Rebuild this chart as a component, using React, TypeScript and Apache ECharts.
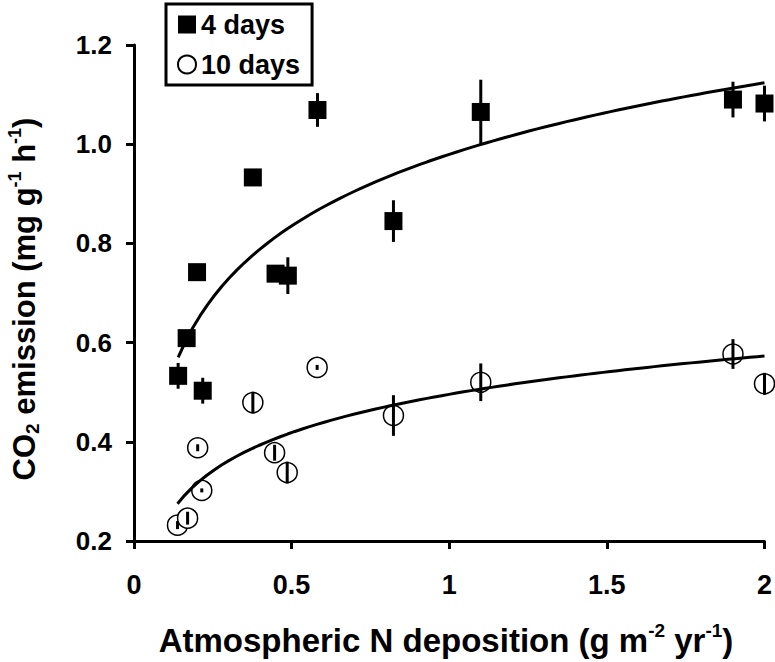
import React, { useEffect, useRef } from "react";
import * as echarts from "echarts";

// ---- Data ----
const days4X = [0.14, 0.167, 0.2, 0.218, 0.377, 0.449, 0.488, 0.582, 0.823, 1.1, 1.9, 2.0];
const days4Y = [0.533, 0.609, 0.742, 0.503, 0.933, 0.739, 0.735, 1.069, 0.845, 1.065, 1.09, 1.082];
const days4Err = [0.026, 0.012, 0.01, 0.026, 0, 0.012, 0.037, 0.034, 0.042, 0.065, 0.036, 0.036];

const days10X = [0.138, 0.17, 0.202, 0.215, 0.377, 0.446, 0.486, 0.581, 0.823, 1.1, 1.9, 2.0];
const days10Y = [0.232, 0.246, 0.388, 0.302, 0.479, 0.378, 0.338, 0.55, 0.453, 0.52, 0.577, 0.517];
const days10Err = [0.008, 0.013, 0.007, 0.004, 0.022, 0.016, 0.022, 0.005, 0.041, 0.038, 0.03, 0.022];

const seriesNames = ["4 days", "10 days"];
const xTickLabels = ["0", "0.5", "1", "1.5", "2"];

const FONT = "'Liberation Sans', Arial, sans-serif";

// logarithmic least-squares trend (y = a + b ln x) derived from the data
function logFit(xs: number[], ys: number[]) {
  const lx = xs.map((x) => Math.log(x));
  const n = xs.length;
  const mx = lx.reduce((s, v) => s + v, 0) / n;
  const my = ys.reduce((s, v) => s + v, 0) / n;
  let sxy = 0;
  let sxx = 0;
  for (let i = 0; i < n; i++) {
    sxy += (lx[i] - mx) * (ys[i] - my);
    sxx += (lx[i] - mx) * (lx[i] - mx);
  }
  const b = sxy / sxx;
  const a = my - b * mx;
  const lo = Math.min(...xs);
  const hi = Math.max(...xs);
  const pts: number[][] = [];
  const steps = 80;
  for (let i = 0; i <= steps; i++) {
    const x = lo + ((hi - lo) * i) / steps;
    pts.push([x, a + b * Math.log(x)]);
  }
  return pts;
}

function errData(xs: number[], ys: number[], es: number[]) {
  return xs.map((x, i) => [x, ys[i] - es[i], ys[i] + es[i]]);
}

const errRender = (params: any, api: any) => {
  const x = api.value(0);
  const p1 = api.coord([x, api.value(1)]);
  const p2 = api.coord([x, api.value(2)]);
  if (Math.abs(p1[1] - p2[1]) < 0.5) return null;
  return {
    type: "line",
    shape: { x1: p1[0], y1: p1[1], x2: p2[0], y2: p2[1] },
    style: { stroke: "#000", lineWidth: 3 },
  };
};

export default function App() {
  const ref = useRef<HTMLDivElement>(null);

  useEffect(() => {
    if (!ref.current) return;
    const chart = echarts.init(ref.current, undefined, { renderer: "svg" });
    const axisCommon = {
      axisLine: { show: true, lineStyle: { color: "#000", width: 3 } },
      axisTick: { show: true, length: 8, lineStyle: { color: "#000", width: 3 } },
      splitLine: { show: false },
    };
    chart.setOption({
      animation: false,
      backgroundColor: "#fff",
      grid: { left: 134, right: 9, top: 45, bottom: 121, containLabel: false },
      xAxis: {
        type: "value",
        min: 0,
        max: 2,
        interval: 0.5,
        ...axisCommon,
        axisLabel: {
          formatter: (v: number) => xTickLabels[Math.round(v / 0.5)] ?? String(v),
          fontSize: 27,
          fontWeight: "bold",
          color: "#000",
          fontFamily: FONT,
          margin: 30,
        },
      },
      yAxis: {
        type: "value",
        min: 0.2,
        max: 1.2,
        interval: 0.2,
        ...axisCommon,
        axisLabel: {
          formatter: (v: number) => v.toFixed(1),
          fontSize: 26,
          fontWeight: "bold",
          color: "#000",
          fontFamily: FONT,
          margin: 22,
        },
      },
      legend: {
        data: seriesNames,
        orient: "vertical",
        left: 166,
        top: 4,
        itemWidth: 18,
        itemHeight: 18,
        itemGap: 13,
        padding: [7, 12, 7, 11],
        borderColor: "#000",
        borderWidth: 3,
        borderRadius: 0,
        selectedMode: false,
        textStyle: {
          fontSize: 27,
          fontWeight: "bold",
          color: "#000",
          fontFamily: FONT,
          lineHeight: 26,
        },
      },
      graphic: [
        {
          type: "text",
          x: 24,
          y: 299,
          rotation: Math.PI / 2,
          style: {
            text: "{a|CO}{s|2}{a| emission (mg g}{p|-1}{a| h}{p|-1}{a|)}",
            align: "center",
            verticalAlign: "middle",
            fill: "#000",
            rich: {
              a: { fontSize: 31, fontWeight: "bold", fontFamily: FONT, lineHeight: 36, fill: "#000" },
              s: { fontSize: 19, fontWeight: "bold", fontFamily: FONT, lineHeight: 20, verticalAlign: "bottom", fill: "#000" },
              p: { fontSize: 18, fontWeight: "bold", fontFamily: FONT, lineHeight: 20, verticalAlign: "top", fill: "#000" },
            },
          },
        },
        {
          type: "text",
          x: 446,
          y: 640,
          style: {
            text: "{a|Atmospheric N deposition (g m}{p|-2}{a| yr}{p|-1}{a|)}",
            align: "center",
            verticalAlign: "middle",
            fill: "#000",
            rich: {
              a: { fontSize: 33, fontWeight: "bold", fontFamily: FONT, lineHeight: 38, fill: "#000" },
              p: { fontSize: 19, fontWeight: "bold", fontFamily: FONT, lineHeight: 20, verticalAlign: "top", fill: "#000" },
            },
          },
        },
      ],
      series: [
        {
          name: seriesNames[0],
          type: "scatter",
          symbol: "rect",
          symbolSize: 18,
          itemStyle: { color: "#000", opacity: 1 },
          data: days4X.map((x, i) => [x, days4Y[i]]),
          z: 2,
        },
        {
          name: seriesNames[1],
          type: "scatter",
          symbol: "circle",
          symbolSize: 20,
          itemStyle: { color: "#fff", borderColor: "#000", borderWidth: 1.5, opacity: 1 },
          data: days10X.map((x, i) => [x, days10Y[i]]),
          z: 2,
        },
        {
          name: "err4",
          type: "custom",
          renderItem: errRender,
          data: errData(days4X, days4Y, days4Err),
          z: 3,
          silent: true,
        },
        {
          name: "err10",
          type: "custom",
          renderItem: errRender,
          data: errData(days10X, days10Y, days10Err),
          z: 3,
          silent: true,
        },
        {
          name: "fit4",
          type: "line",
          data: logFit(days4X, days4Y),
          showSymbol: false,
          symbol: "none",
          lineStyle: { color: "#000", width: 3 },
          z: 4,
          silent: true,
        },
        {
          name: "fit10",
          type: "line",
          data: logFit(days10X, days10Y),
          showSymbol: false,
          symbol: "none",
          lineStyle: { color: "#000", width: 3 },
          z: 4,
          silent: true,
        },
      ],
    });
    return () => chart.dispose();
  }, []);

  return (
    <div
      ref={ref}
      style={{ position: "fixed", left: 0, top: 0, width: 775, height: 662, background: "#fff" }}
    />
  );
}
